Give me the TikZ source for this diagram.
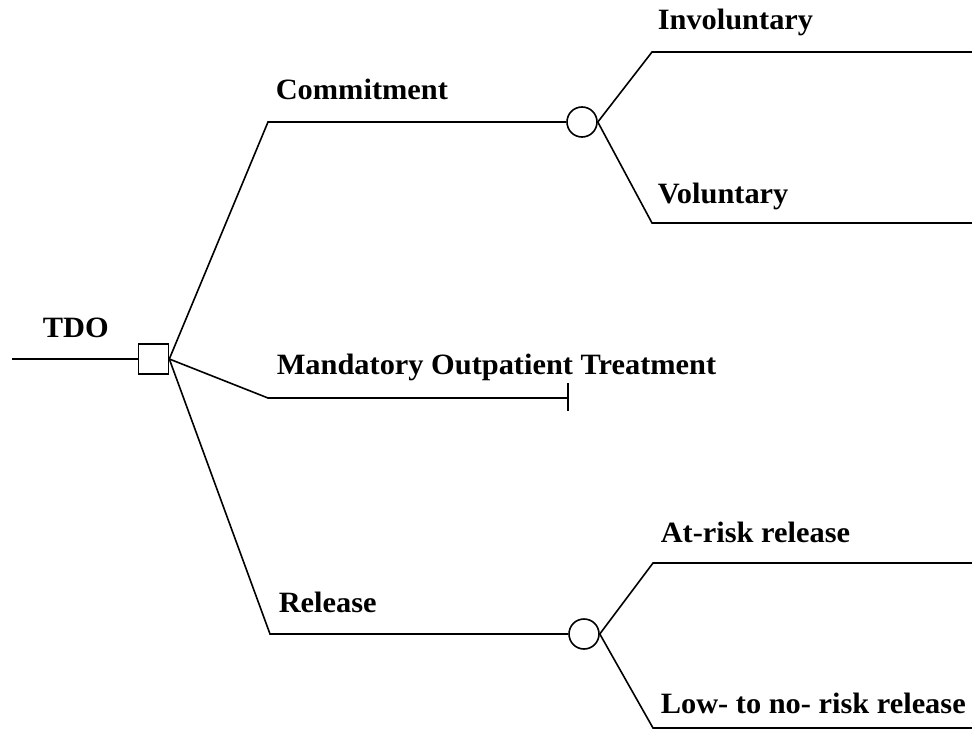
\documentclass[tikz,border=0pt]{standalone}
\usepackage{fontspec}
\setmainfont[FakeStretch=1.03]{Liberation Serif}
\usepackage{tikz}

\tikzset{
    lbl/.style={anchor=base west, inner sep=0pt, font=\bfseries\fontsize{29.5}{31}\selectfont},
    decision/.style={draw, rectangle, minimum size=30pt, inner sep=0pt},
    chance/.style={draw, circle, minimum size=30pt, inner sep=0pt},
}

\begin{document}
\begin{tikzpicture}[x=1pt, y=-1pt, line width=1.6pt]
        \useasboundingbox (0,0) rectangle (972,749);
        % decision and chance nodes
        \node[decision] (dec) at (153.5,359) {};
        \node[chance] (cmt) at (582,122) {};
        \node[chance] (rel) at (584,634) {};
        \coordinate (in) at (12,359);
        \coordinate (cmtk) at (268,122);
        \coordinate (motk) at (268,398);
        \coordinate (mot) at (568,398);
        \coordinate (relk) at (270,634);
        \coordinate (invk) at (652,52);  \coordinate (inv) at (972,52);
        \coordinate (volk) at (652,223); \coordinate (vol) at (972,223);
        \coordinate (atk) at (653,563);  \coordinate (at) at (972,563);
        \coordinate (lowk) at (653,728); \coordinate (low) at (972,728);
        % branches
        \draw (in) -- (dec.west);
        \draw (dec.east) -- (cmtk) -- (cmt.west);
        \draw (dec.east) -- (motk) -- (mot);
        \draw ([yshift=15]mot) -- ([yshift=-13]mot);
        \draw (dec.east) -- (relk) -- (rel.west);
        \draw (cmt.east) -- (invk) -- (inv);
        \draw (cmt.east) -- (volk) -- (vol);
        \draw (rel.east) -- (atk) -- (at);
        \draw (rel.east) -- (lowk) -- (low);
        % labels
        \node[lbl] (ltdo) at (42,337) {TDO};
        \node[lbl] (lcmt) at (275,100) {Commitment};
        \node[lbl] (lmot) at (276,374) {Mandatory Outpatient Treatment};
        \node[lbl] (lrel) at (278,612) {Release};
        \node[lbl] (linv) at (657,30) {Involuntary};
        \node[lbl] (lvol) at (657,203) {Voluntary};
        \node[lbl] (lat) at (660,542) {At-risk release};
        \node[lbl] (llow) at (660,713) {Low- to no- risk release};
    \end{tikzpicture}
\end{document}
